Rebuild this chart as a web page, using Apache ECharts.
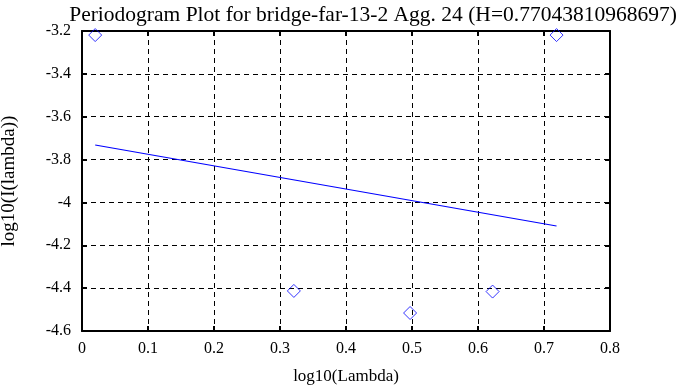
<!DOCTYPE html>
<html><head><meta charset="utf-8">
<script src="https://cdn.jsdelivr.net/npm/echarts@6/dist/echarts.min.js"></script>
<style>html,body{margin:0;padding:0;background:#fff}#c{width:678px;height:387px}</style>
</head><body><div id="c"></div>
<script>
const pointX = [0.0200, 0.3210, 0.4971, 0.6221, 0.7190];
const pointY = [-3.219, -4.413, -4.516, -4.416, -3.219];
const fitX = [0.0200, 0.7190];
const fitY = [-3.732, -4.110];
const titleText = 'Periodogram Plot for bridge-far-13-2 Agg. 24 (H=0.77043810968697)';
const font = 'Liberation Serif';
const chart = echarts.init(document.getElementById('c'));
const gridLine = {show:true, lineStyle:{color:'#000', type:[5,4], width:1}};
const axisLine = {show:true, onZero:false, lineStyle:{color:'#000', width:2}};
const tick = {show:true, inside:true, length:5, lineStyle:{color:'#000', width:2}};
chart.setOption({
  animation:false,
  title:{text:titleText, left:368, textAlign:'center', top:-1, textStyle:{fontFamily:font, fontWeight:'normal', fontSize:21.5, color:'#000'}},
  grid:{left:82, right:68, top:31, bottom:56, containLabel:false, outerBoundsMode:'none'},
  xAxis:[{type:'value', min:0, max:0.8, interval:0.1, position:'bottom',
    name:'log10(Lambda)', nameLocation:'middle', nameGap:37,
    nameTextStyle:{fontFamily:font, fontSize:17, color:'#000'},
    axisLine:axisLine, axisTick:tick, splitLine:gridLine,
    axisLabel:{fontFamily:font, fontSize:16, color:'#000', margin:10, formatter:v=>String(+v.toFixed(1))}},
   {type:'value', min:0, max:0.8, interval:0.1, position:'top',
    axisLine:axisLine, axisTick:tick, splitLine:{show:false}, axisLabel:{show:false}}],
  yAxis:[{type:'value', min:-4.6, max:-3.2, interval:0.2, position:'left',
    name:'log10(I(lambda))', nameLocation:'middle', nameGap:63,
    nameTextStyle:{fontFamily:font, fontSize:19, color:'#000'},
    axisLine:axisLine, axisTick:tick, splitLine:gridLine,
    axisLabel:{fontFamily:font, fontSize:16, color:'#000', margin:11, formatter:v=>String(+v.toFixed(1))}},
   {type:'value', min:-4.6, max:-3.2, interval:0.2, position:'right',
    axisLine:axisLine, axisTick:tick, splitLine:{show:false}, axisLabel:{show:false}}],
  series:[
    {type:'line', data:fitX.map((x,i)=>[x,fitY[i]]), showSymbol:false, symbol:'none',
     lineStyle:{color:'#0000ff', width:1.2}},
    {type:'scatter', data:pointX.map((x,i)=>[x,pointY[i]]), symbol:'diamond', symbolSize:13,
     itemStyle:{color:'rgba(0,0,0,0)', borderColor:'#0000ff', borderWidth:1}}
  ]
});
</script></body></html>
